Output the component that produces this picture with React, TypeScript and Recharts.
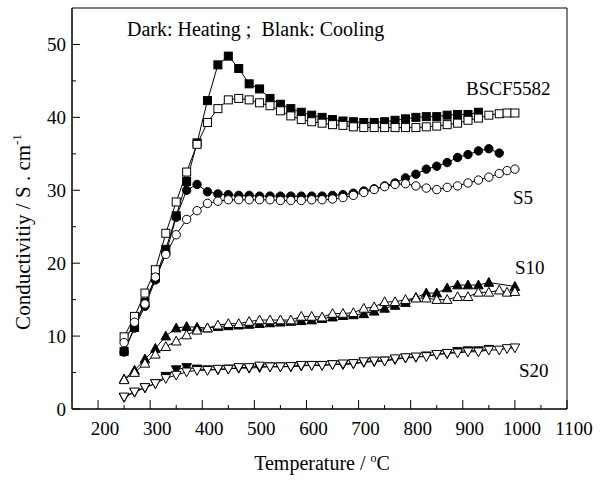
import React from 'react'
import { LineChart, Line, XAxis, YAxis, ReferenceArea } from 'recharts'

// temperature (°C) of each measurement point
const temps = [
  250, 270, 290, 310, 330, 350, 370, 390, 410, 430, 450, 470, 490, 510, 530, 550, 570, 590, 610, 630,
  650, 670, 690, 710, 730, 750, 770, 790, 810, 830, 850, 870, 890, 910, 930, 950, 970, 985, 1000,
]

// conductivity (S/cm), heating = filled markers, cooling = open markers
const bscfHeat = [
  7.9, 11.2, 14.6, 18.0, 21.9, 26.5, 31.2, 36.5, 42.3, 47.2, 48.4, 46.7, 44.6, 43.9, 42.6, 41.8, 41.2, 40.7, 40.3, 40.0,
  39.7, 39.5, 39.4, 39.3, 39.3, 39.4, 39.6, 39.8, 40.0, 40.1, 40.1, 40.3, 40.4, 40.4, 40.7, null, null, null, null,
]
const bscfCool = [
  9.9, 12.7, 15.9, 19.1, 24.1, 28.4, 32.5, 36.3, 39.3, 41.2, 42.4, 42.6, 42.4, 42.0, 41.6, 40.9, 40.2, 39.7, 39.4, 39.2,
  39.0, 38.9, 38.7, 38.6, 38.6, 38.6, 38.6, 38.6, 38.6, 38.7, 38.8, 39.0, 39.2, 39.6, 39.9, 40.3, 40.5, 40.6, 40.6,
]
const s5Heat = [
  7.8, 11.1, 14.1, 17.7, 21.3, 26.3, 30.0, 30.8, 29.8, 29.5, 29.4, 29.3, 29.3, 29.2, 29.2, 29.2, 29.2, 29.2, 29.2, 29.2,
  29.3, 29.4, 29.6, 29.9, 30.2, 30.6, 31.0, 31.7, 32.2, 32.9, 33.3, 33.8, 34.5, 34.9, 35.4, 35.7, 35.1, null, null,
]
const s5Cool = [
  9.1, 11.9, 14.4, 18.1, 21.2, 23.9, 26.0, 27.2, 28.2, 28.5, 28.7, 28.7, 28.7, 28.7, 28.7, 28.6, 28.6, 28.6, 28.7, 28.7,
  28.8, 29.0, 29.3, 29.7, 30.1, 30.5, 30.8, 30.9, 30.6, 30.3, 30.1, 30.4, 30.6, 31.0, 31.4, 31.8, 32.3, 32.7, 32.9,
]
const s10Heat = [
  4.1, 5.3, 6.85, 8.3, 10.0, 11.1, 11.3, 11.2, 11.1, 11.3, 11.4, 11.5, 11.6, 11.7, 11.8, 11.9, 12.0, 12.1, 12.2, 12.4,
  12.6, 12.8, 12.9, 13.05, 13.4, 13.8, 14.2, 14.6, 15.3, 15.9, 15.9, 16.6, 17.0, 17.0, 17.0, 17.35, null, null, 16.8,
]
const s10Cool = [
  4.0, 5.0, 6.26, 7.5, 8.55, 9.3, 10.15, 10.8, 11.1, 11.5, 11.7, 11.7, 12.0, 12.2, 12.2, 12.2, 12.2, 12.7, 12.7, 12.6,
  13.1, 13.1, 13.2, 13.8, 14.0, 14.7, 14.7, 15.0, 15.2, 15.2, 15.0, 15.0, 15.4, 15.4, 16.0, 16.0, 16.3, 16.0, 16.1,
]
const s20Heat = [
  1.6, 2.3, 2.9, 3.5, 4.5, 5.4, 5.7, 5.5, 5.4, 5.4, 5.5, 5.6, 5.6, 5.7, 5.8, 5.8, 5.8, 5.9, 6.0, 6.0,
  6.1, 6.1, 6.2, 6.4, 6.5, 6.6, 6.8, 7.0, 7.1, 7.3, 7.5, 7.6, 7.9, 8.0, 8.0, 8.2, null, null, null,
]
const s20Cool = [
  1.66, 2.35, 2.96, 3.5, 4.2, 4.65, 5.1, 5.3, 5.3, 5.47, 5.47, 5.7, 5.7, 5.9, 5.8, 5.8, 5.85, 6.0, 6.0, 6.0,
  6.1, 6.2, 6.25, 6.5, 6.6, 6.6, 6.9, 7.05, 7.15, 7.2, 7.5, 7.65, 7.7, 7.85, 7.85, 8.1, 8.1, 8.3, 8.4,
]

const xTicks = [200, 250, 300, 350, 400, 450, 500, 550, 600, 650, 700, 750, 800, 850, 900, 950, 1000, 1050, 1100]
const yTicks = [0, 5, 10, 15, 20, 25, 30, 35, 40, 45, 50]

const rows = temps.map((t, i) => ({
  t,
  bscfHeat: bscfHeat[i],
  bscfCool: bscfCool[i],
  s5Heat: s5Heat[i],
  s5Cool: s5Cool[i],
  s10Heat: s10Heat[i],
  s10Cool: s10Cool[i],
  s20Heat: s20Heat[i],
  s20Cool: s20Cool[i],
}))

const FONT = '"Liberation Serif", "DejaVu Serif", serif'

type Shape = 'square' | 'circle' | 'up' | 'down'

function marker(shape: Shape, filled: boolean) {
  return (props: any) => {
    const { cx, cy, index, value } = props
    if (cx == null || cy == null || value == null) return <g key={index} />
    const fill = filled ? '#000' : '#fff'
    const common = { fill, stroke: '#000', strokeWidth: 1 }
    if (shape === 'square') return <rect key={index} x={cx - 4} y={cy - 4} width={8} height={8} {...common} />
    if (shape === 'circle') return <circle key={index} cx={cx} cy={cy} r={4.2} {...common} />
    if (shape === 'up')
      return <polygon key={index} points={`${cx},${cy - 5} ${cx - 4.8},${cy + 3.8} ${cx + 4.8},${cy + 3.8}`} {...common} />
    return <polygon key={index} points={`${cx},${cy + 5} ${cx - 4.8},${cy - 3.8} ${cx + 4.8},${cy - 3.8}`} {...common} />
  }
}

function XTick(props: any) {
  const { x, y, payload } = props
  const major = payload.value % 100 === 0
  return (
    <g>
      <line x1={x} y1={y} x2={x} y2={y - (major ? 9 : 4)} stroke="#000" />
      {major && (
        <text x={x + 7} y={y + 26} textAnchor="middle" fontFamily={FONT} fontSize={19} fill="#000">
          {payload.value}
        </text>
      )}
    </g>
  )
}

function YTick(props: any) {
  const { x, y, payload } = props
  const major = payload.value % 10 === 0
  return (
    <g>
      <line x1={x} y1={y} x2={x + (major ? 8 : 4)} y2={y} stroke="#000" />
      {major && (
        <text x={x - 6} y={y} textAnchor="end" dominantBaseline="central" fontFamily={FONT} fontSize={19} fill="#000">
          {payload.value}
        </text>
      )}
    </g>
  )
}

const series: { key: string; shape: Shape; filled: boolean; connect?: boolean }[] = [
  { key: 'bscfHeat', shape: 'square', filled: true },
  { key: 's5Heat', shape: 'circle', filled: true },
  { key: 's10Heat', shape: 'up', filled: true, connect: true },
  { key: 's20Heat', shape: 'down', filled: true },
  { key: 'bscfCool', shape: 'square', filled: false },
  { key: 's5Cool', shape: 'circle', filled: false },
  { key: 's10Cool', shape: 'up', filled: false },
  { key: 's20Cool', shape: 'down', filled: false },
]

export default function App() {
  return (
    <div style={{ position: 'absolute', left: 0, top: 0, width: 607, height: 480, background: '#fff' }}>
      <LineChart width={607} height={480} data={rows} margin={{ top: 8, right: 40, bottom: 0, left: 0 }}>
        <XAxis
          dataKey="t"
          type="number"
          domain={[150, 1100]}
          ticks={xTicks}
          interval={0}
          height={71}
          tickSize={0}
          tickMargin={0}
          tickLine={false}
          axisLine={{ stroke: '#000' }}
          tick={<XTick />}
        />
        <YAxis
          type="number"
          domain={[0, 55]}
          ticks={yTicks}
          interval={0}
          width={72}
          tickSize={0}
          tickMargin={0}
          tickLine={false}
          axisLine={{ stroke: '#000' }}
          tick={<YTick />}
        />
        <ReferenceArea x1={150} x2={1100} y1={0} y2={55} fill="none" stroke="#000" strokeWidth={1} />
        {series.map((s) => (
          <Line
            key={s.key}
            dataKey={s.key}
            type="linear"
            stroke="#000"
            strokeWidth={1}
            connectNulls={!!s.connect}
            dot={marker(s.shape, s.filled)}
            activeDot={false}
            isAnimationActive={false}
          />
        ))}
      </LineChart>
      <svg
        width={607}
        height={480}
        style={{ position: 'absolute', left: 0, top: 0, pointerEvents: 'none' }}
        fontFamily={FONT}
        fill="#000"
      >
        <text x={127} y={36} fontSize={20} style={{ whiteSpace: 'pre' }}>
          {'Dark: Heating ;  Blank: Cooling'}
        </text>
        <text x={466} y={95} fontSize={19}>BSCF5582</text>
        <text x={513} y={204} fontSize={19}>S5</text>
        <text x={515} y={274} fontSize={19}>S10</text>
        <text x={519} y={377} fontSize={19}>S20</text>
        <text x={322} y={470} fontSize={20} textAnchor="middle">
          Temperature /{' '}
          <tspan fontSize={12} dy={-8}>o</tspan>
          <tspan dy={8}>C</tspan>
        </text>
        <text transform="translate(30,232) rotate(-90)" fontSize={21} textAnchor="middle">
          Conductivitiy / S . cm
          <tspan fontSize={13} dy={-9}>-1</tspan>
        </text>
      </svg>
    </div>
  )
}
